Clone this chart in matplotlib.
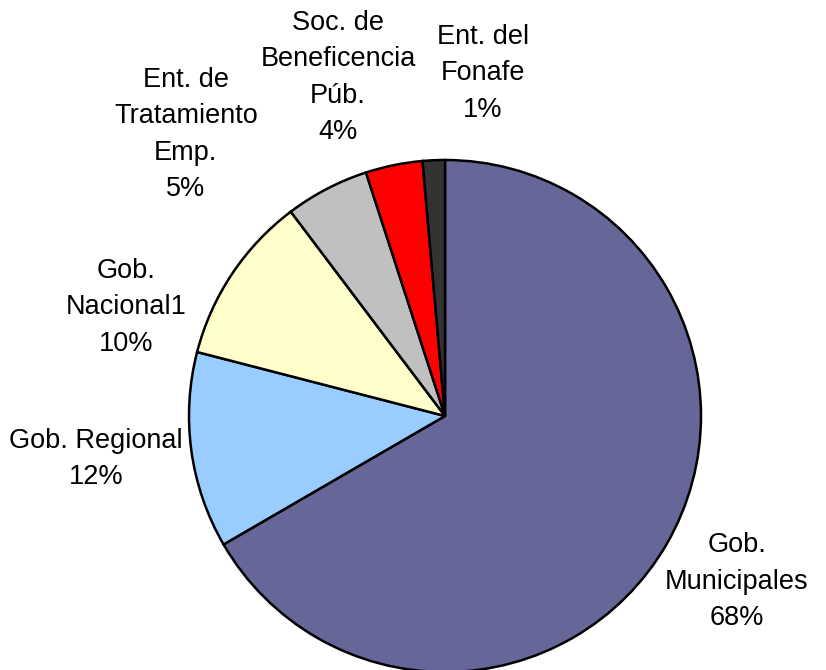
import matplotlib
matplotlib.use('Agg')
import matplotlib.pyplot as plt

# Distribution of entities (pie, clockwise from top)
categories = ['Gob.\nMunicipales', 'Gob. Regional', 'Gob.\nNacional1',
              'Ent. de\nTratamiento\nEmp.', 'Soc. de\nBeneficencia\nPúb.',
              'Ent. del\nFonafe']
values = [66.7, 12.4, 10.7, 5.3, 3.6, 1.4]
pct_labels = ['68%', '12%', '10%', '5%', '4%', '1%']
colors = ['#666699', '#99CCFF', '#FFFFCC', '#C0C0C0', '#FF0000', '#333333']

# label centres, in pie-radius units
label_pos = [(1.14, -0.648), (-1.363, -0.168), (-1.246, 0.425),
             (-1.012, 1.100), (-0.418, 1.322), (0.148, 1.338)]

plt.rcParams['font.family'] = ['Liberation Sans', 'DejaVu Sans']

fig = plt.figure(figsize=(8.26, 6.7), dpi=100)
ax = fig.add_axes([0, 0, 1, 1])

cx, cy, r = 445, 416, 256
ax.pie(values, colors=colors, startangle=90, counterclock=False,
       radius=1, wedgeprops=dict(edgecolor='black', linewidth=1.8))

for name, pct, (x, y) in zip(categories, pct_labels, label_pos):
    ax.text(x, y, name + '\n' + pct, ha='center', va='center',
            fontsize=19.5, linespacing=1.52)

ax.set_xlim(-cx / r, (826 - cx) / r)
ax.set_ylim(-(670 - cy) / r, cy / r)
ax.set_aspect('equal')
ax.axis('off')

fig.savefig('out.png', dpi=100, facecolor='white')
